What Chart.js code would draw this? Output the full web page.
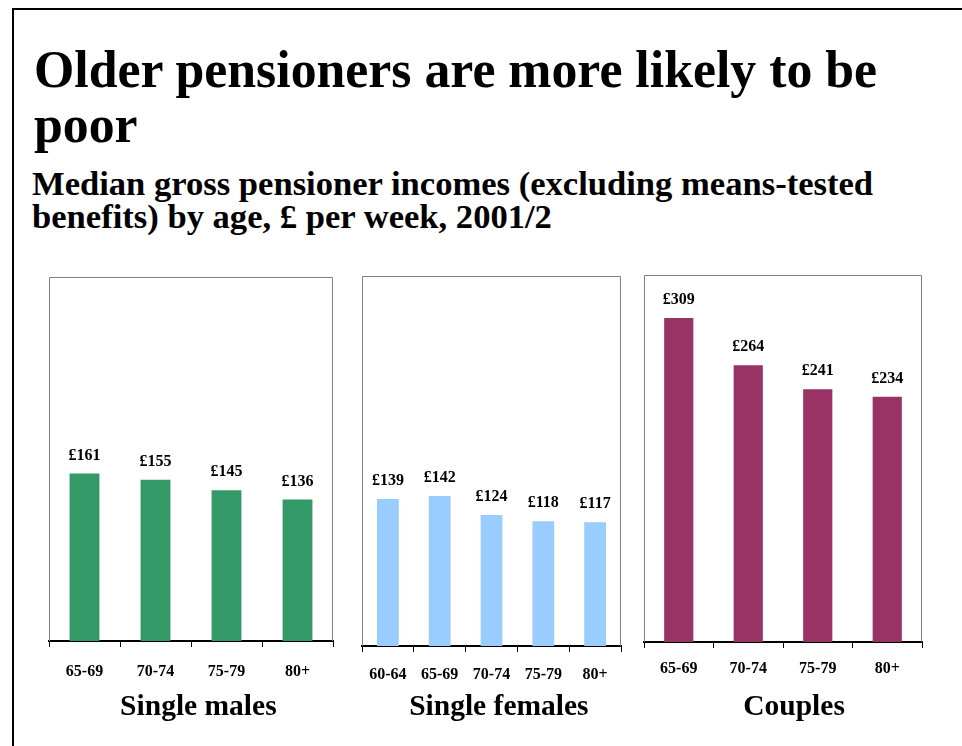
<!DOCTYPE html>
<html>
<head>
<meta charset="utf-8">
<script src="https://cdn.jsdelivr.net/npm/chart.js@4"></script>
<style>
  body { margin: 0; background: #fff; width: 962px; height: 746px; overflow: hidden; position: relative;
         font-family: "Liberation Serif", "Times New Roman", serif; color: #000; }
  #frame { position: absolute; left: 12px; top: 8px; width: 950px; height: 738px;
           border-top: 2px solid #000; border-left: 2px solid #000; box-sizing: border-box; }
  #title { position: absolute; left: 34px; top: 42px; font-size: 51.8px; line-height: 55px; font-weight: bold; white-space: nowrap; }
  #subtitle { position: absolute; left: 32px; top: 167px; font-size: 34.6px; line-height: 33px; font-weight: bold; white-space: nowrap; }
  canvas { position: absolute; }
</style>
</head>
<body>
<div id="frame"></div>
<div id="title">Older pensioners are more likely to be<br>poor</div>
<div id="subtitle">Median gross pensioner incomes (excluding means-tested<br>benefits) by age, £ per week, 2001/2</div>
<canvas id="males"></canvas>
<canvas id="females"></canvas>
<canvas id="couples"></canvas>
<script>
// data, £ per week
const malesAges = ['65-69', '70-74', '75-79', '80+'];
const malesIncome = [161, 155, 145, 136];

const femalesAges = ['60-64', '65-69', '70-74', '75-79', '80+'];
const femalesIncome = [139, 142, 124, 118, 117];

const couplesAges = ['65-69', '70-74', '75-79', '80+'];
const couplesIncome = [309, 264, 241, 234];

const yMax = 350;
const serif = '"Liberation Serif", "Times New Roman", serif';

// grey box round the plot + £ labels above bars
const boxAndLabels = {
  id: 'boxAndLabels',
  beforeDatasetsDraw(chart) {
    const { ctx, chartArea: a } = chart;
    ctx.save();
    ctx.strokeStyle = '#808080';
    ctx.lineWidth = 1;
    ctx.beginPath();
    ctx.moveTo(a.left + 0.5, a.bottom);
    ctx.lineTo(a.left + 0.5, a.top + 0.5);
    ctx.lineTo(a.right - 0.5, a.top + 0.5);
    ctx.lineTo(a.right - 0.5, a.bottom);
    ctx.stroke();
    ctx.restore();
  },
  afterDatasetsDraw(chart) {
    const ctx = chart.ctx;
    const meta = chart.getDatasetMeta(0);
    const values = chart.data.datasets[0].data;
    ctx.save();
    ctx.font = 'bold 16px ' + serif;
    ctx.fillStyle = '#000';
    ctx.textAlign = 'center';
    ctx.textBaseline = 'alphabetic';
    meta.data.forEach((bar, i) => {
      ctx.fillText('£' + values[i], bar.x, bar.y - 14);
    });
    ctx.restore();
  }
};

function drawPanel(canvasID, labels, values, color, titleText, box, labelPad) {
  const pad = 16; // big enough that tick label overflow never moves the plot
  const canvas = document.getElementById(canvasID);
  const axisHeight = 732 - box.bottom;
  canvas.width = box.right - box.left + pad * 2;
  canvas.height = pad + (box.bottom - box.top) + axisHeight;
  canvas.style.left = (box.left - pad) + 'px';
  canvas.style.top = (box.top - pad) + 'px';

  return new Chart(canvas.getContext('2d'), {
    type: 'bar',
    data: {
      labels: labels,
      datasets: [{
        data: values,
        backgroundColor: color,
        borderWidth: 0,
        categoryPercentage: 1,
        barPercentage: 0.42
      }]
    },
    options: {
      responsive: false,
      animation: false,
      layout: { padding: { left: pad, right: pad, top: pad, bottom: 0 } },
      plugins: {
        legend: { display: false },
        tooltip: { enabled: false }
      },
      scales: {
        y: { display: false, min: 0, max: yMax },
        x: {
          afterFit: (scale) => { scale.height = axisHeight; },
          border: { color: '#000', width: 2 },
          grid: { drawOnChartArea: false, drawTicks: true, tickLength: 6, color: '#000', offset: true },
          ticks: {
            color: '#000',
            padding: labelPad,
            font: { family: serif, size: 16, weight: 'bold' }
          },
          title: {
            display: true,
            text: titleText,
            color: '#000',
            padding: { top: 0, bottom: 7 },
            font: { family: serif, size: 29.5, weight: 'bold' }
          }
        }
      }
    },
    plugins: [boxAndLabels]
  });
}

// titles sit a little right of centre in the original
drawPanel('males', malesAges, malesIncome, '#339966', '\u00a0\u00a0Single males',
  { left: 49, top: 277, right: 333, bottom: 641 }, 15);
drawPanel('females', femalesAges, femalesIncome, '#99CCFF', '\u00a0\u00a0Single females',
  { left: 362, top: 276, right: 621, bottom: 646 }, 13);
drawPanel('couples', couplesAges, couplesIncome, '#993366', '\u00a0\u00a0\u00a0Couples',
  { left: 644, top: 275, right: 922, bottom: 642 }, 11);
</script>
</body>
</html>
